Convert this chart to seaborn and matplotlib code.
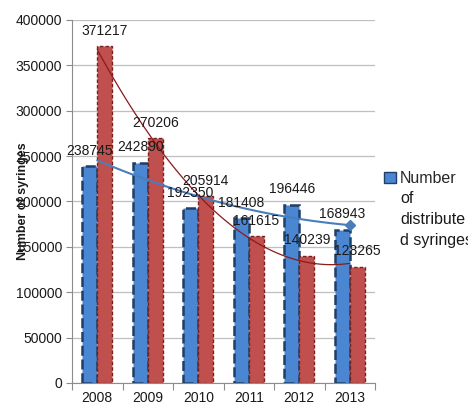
import numpy as np
import pandas as pd
import seaborn as sns
import matplotlib.pyplot as plt
from matplotlib.patches import Patch

# values
years = ['2008', '2009', '2010', '2011', '2012', '2013']
distributed = [238745, 242890, 192350, 181408, 196446, 168943]
returned = [371217, 270206, 205914, 161615, 140239, 128265]
y_ticks = [0, 50000, 100000, 150000, 200000, 250000, 300000, 350000, 400000]
y_label = 'Number of syringes'
# legend text is wrapped in the original, the first line sits next to the marker
legend_lines = ['Number', 'of', 'distribute', 'd syringes']

blue = '#4A86D2'
blue_edge = '#1F3F66'
red = '#C0504D'
red_edge = '#7A1F1D'
grid_col = '#BFBFBF'

sns.set_theme(style='white')
plt.rcParams['font.family'] = ['Liberation Sans', 'DejaVu Sans']

df = pd.DataFrame({
    'year': years * 2,
    'value': distributed + returned,
    'series': ['distributed'] * len(years) + ['returned'] * len(years),
})

fig = plt.figure(figsize=(4.68, 4.07), dpi=100)
ax = fig.add_axes([72 / 468, 24 / 407, 303 / 468, 363 / 407])

sns.barplot(data=df, x='year', y='value', hue='series',
            palette={'distributed': blue, 'returned': red}, saturation=1,
            width=0.6, errorbar=None, legend=False, ax=ax, zorder=2)

# dashed outlines like the original
for bar in ax.containers[0]:
    bar.set_edgecolor(blue_edge)
    bar.set_linewidth(1.8)
    bar.set_linestyle((0, (4, 1.5)))
for bar in ax.containers[1]:
    bar.set_edgecolor(red_edge)
    bar.set_linewidth(1.0)
    bar.set_linestyle((0, (2.5, 1.5)))

# polynomial trendlines (order 2)
pos = np.arange(len(years))
sns.regplot(x=pos, y=distributed, order=2, ci=None, scatter=False, ax=ax,
            color='#4A7EBB', line_kws=dict(lw=1.5, zorder=3))
trend = ax.lines[-1]
trend.set_marker('D')
trend.set_markevery([-1])
trend.set_markersize(5)
sns.regplot(x=pos, y=returned, order=2, ci=None, scatter=False, ax=ax,
            color='#8B1A1A', line_kws=dict(lw=0.9, zorder=3))

# data labels
for cont in ax.containers:
    for bar in cont:
        h = bar.get_height()
        ax.annotate(f'{int(h)}', (bar.get_x() + bar.get_width() / 2, h),
                    xytext=(0, 11), textcoords='offset points',
                    ha='center', va='center', fontsize=10, color='#1a1a1a', zorder=4)

ax.set_xlim(-0.5, len(years) - 0.5)
ax.set_ylim(0, 400000)
ax.set_yticks(y_ticks)
ax.set_yticklabels([str(t) for t in y_ticks])
ax.yaxis.grid(True, color=grid_col, lw=0.9)
ax.set_axisbelow(True)

ax.set_xticks(pos)
ax.set_xticklabels(years)
ax.set_xticks(np.arange(len(years) + 1) - 0.5, minor=True)
ax.tick_params(axis='x', which='major', length=0, pad=6, labelsize=10, labelcolor='#1a1a1a')
ax.tick_params(axis='x', which='minor', length=5, color='#8c8c8c', width=0.8, bottom=True)
ax.tick_params(axis='y', length=4, color='#8c8c8c', width=0.8, left=True, pad=3,
               labelsize=10, labelcolor='#1a1a1a')

for side in ['top', 'right']:
    ax.spines[side].set_visible(False)
for side in ['left', 'bottom']:
    ax.spines[side].set_color('#8c8c8c')
    ax.spines[side].set_linewidth(0.8)

ax.set_xlabel('')
ax.set_ylabel(y_label, fontsize=9, fontweight='bold', color='#1a1a1a')
ax.yaxis.set_label_coords(-43 / 303, 0.5)

leg = ax.legend(handles=[Patch(facecolor=blue, edgecolor=blue_edge)], labels=[legend_lines[0]],
                loc='upper left', bbox_to_anchor=(384 / 468, 1 - 171 / 407),
                bbox_transform=fig.transFigure, frameon=False, fontsize=11.5,
                handlelength=0.75, handleheight=0.75, handletextpad=0.25,
                borderaxespad=0, borderpad=0)

# rest of the wrapped legend label, under the first line
fig.canvas.draw()
bb = leg.get_texts()[0].get_window_extent().transformed(fig.transFigure.inverted())
fig.text(bb.x0, bb.y0 - 5 / 407, '\n'.join(legend_lines[1:]), ha='left', va='top',
         fontsize=11.5, linespacing=1.5, color='#1a1a1a')

fig.savefig('out.png', dpi=100)
